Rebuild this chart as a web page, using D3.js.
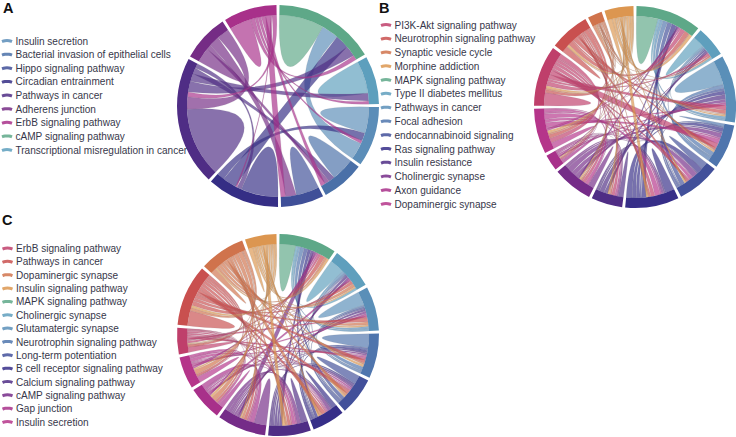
<!DOCTYPE html>
<html><head><meta charset="utf-8">
<style>html,body{margin:0;padding:0;background:#fff}svg{display:block;font-family:"Liberation Sans",Arial,sans-serif}</style>
<script src="https://cdn.jsdelivr.net/npm/d3@7"></script></head>
<body><svg id="c" width="736" height="437"></svg>
<script>
// Panel A. Names in legend order; links rows are [self, to next, to next+1, ...] starting from the first sector drawn.
const namesA = ["Insulin secretion","Bacterial invasion of epithelial cells","Hippo signaling pathway","Circadian entrainment","Pathways in cancer","Adherens junction","ErbB signaling pathway","cAMP signaling pathway","Transcriptional misregulation in cancer"];
const colorsA = ["#5b8db8","#4a70a8","#3f4f98","#352e85","#4f2d85","#752c85","#a8308a","#5ea888","#5d9fbd"];
const firstA = 7;
const linksA = [
 [29,0,11,0,0,9,7,0,3],
 [21,0,0,0,0,5,0,2],
 [17,0,0,5,0,0,2],
 [15,0,0,4,3,3],
 [15,0,0,7,3],
 [24,3,0,1],
 [45,8,3],
 [9.5,0],
 [14]
];
// Panel B
const namesB = ["PI3K-Akt signaling pathway","Neurotrophin signaling pathway","Synaptic vesicle cycle","Morphine addiction","MAPK signaling pathway","Type II diabetes mellitus","Pathways in cancer","Focal adhesion","endocannabinoid signaling","Ras signaling pathway","Insulin resistance","Cholinergic synapse","Axon guidance","Dopaminergic synapse"];
const colorsB = ["#bf3f6b","#c9504f","#d0734c","#dc9650","#5ea888","#5f9fbd","#5a8fb8","#4f75ad","#42509a","#362e88","#4f2d85","#752c88","#a8308a","#b5358a"];
const firstB = 4;
const linksB = [
 [14,1.5,2,3,3,3,1,1,.5,1,3,3,.5,2],
 [7.5,1,1,.5,1,1.5,.5,0,.5,1.5,1,0,.5],
 [16,2.5,1.5,2.5,3,2,1,1,3,2.5,.5,1],
 [2,1,2.5,1,3,1,3,3,1.5,.5,1],
 [4.8,4,.5,3.5,.5,2,1.5,1,.5,1],
 [6,1,1.5,1,3.5,2.5,1.5,.5,1],
 [3.3,1,.5,1,2,1,.5,1],
 [3.9,.5,2,2,1,.5,1],
 [2,.5,1,.5,0,.5],
 [4,3,2.5,1,1.5],
 [8.5,2,1,1.5],
 [4,.5,1.5],
 [2,.5],
 [3]
];
// Panel C
const namesC = ["ErbB signaling pathway","Pathways in cancer","Dopaminergic synapse","Insulin signaling pathway","MAPK signaling pathway","Cholinergic synapse","Glutamatergic synapse","Neurotrophin signaling pathway","Long-term potentiation","B cell receptor signaling pathway","Calcium signaling pathway","cAMP signaling pathway","Gap junction","Insulin secretion"];
const colorsC = ["#bf3f6b","#c9504f","#d0734c","#dc9650","#5ea888","#5f9fbd","#5a8fb8","#4f75ad","#42509a","#362e88","#4f2d85","#752c88","#a8308a","#b5358a"];
const firstC = 4;
const linksC = [
 [10.7,1.5,1.5,2.5,2.5,2,2,1.5,1,1,1.5,3,1.5,1.5],
 [9.8,1.5,1,.5,.5,1.5,1.5,1,.5,.5,2,2,1],
 [9,1,1,.5,1.5,1.5,1,1,1,2.5,2,1],
 [9.2,1.5,1.5,1,1,.5,1,1.5,2,1,1.5],
 [5.7,1,1.5,1,1,.5,1,2,2,1],
 [3.3,1,2,.5,.5,1,2.5,2,1],
 [4.5,2.5,1,2,1,2,1.5,2],
 [8.1,3,1,1,2,1.5,1],
 [3,1.5,.5,1.5,3,1.5],
 [3.8,.5,1.5,3,1],
 [3.5,1.5,.5,.5],
 [9.9,2,1.5],
 [3.7,1],
 [3]
];

const svg = d3.select("#c");
const PAD = 0.03, OUTER = 101, INNER = 91;

// Path context for d3.ribbon: each link bends at an apex on the bisector of its ends;
// the apex sits at mid-radius for close ends and reaches the centre for opposite ends.
function apexContext() {
  const p = d3.path();
  let cx = 0, cy = 0;
  return {
    moveTo(x, y) { p.moveTo(x, y); cx = x; cy = y; },
    arc(x, y, r, a0, a1) { p.arc(x, y, r, a0, a1); cx = r * Math.cos(a1); cy = r * Math.sin(a1); },
    quadraticCurveTo(_x, _y, x, y) {
      const a = Math.atan2(cy, cx), b = Math.atan2(y, x);
      let d = Math.abs(b - a); if (d > Math.PI) d = 2 * Math.PI - d;
      const mx = (cx + x) / 2, my = (cy + y) / 2, len = Math.hypot(mx, my) || 1;
      const apex = INNER * 0.5 * Math.pow(1 - d / Math.PI, 0.6);
      p.quadraticCurveTo(2 * apex * mx / len - mx, 2 * apex * my / len - my, x, y);
      cx = x; cy = y;
    },
    closePath() { p.closePath(); },
    toString() { return p.toString(); }
  };
}

function chordPanel(names, colors, first, links, cx, cy) {
  const n = names.length;
  const sectors = d3.range(n).map(k => (first + k) % n);
  const m = d3.range(n).map(() => new Array(n).fill(0));
  links.forEach((row, i) => row.forEach((v, o) => { m[i][i + o] = v; m[i + o][i] = v; }));
  const total = d3.sum(m, r => d3.sum(r));
  const angle = d3.scaleLinear().domain([0, total]).range([0, 2 * Math.PI - n * PAD]);
  const color = d3.scaleOrdinal().domain(d3.range(n)).range(sectors.map(s => colors[s]));
  // each sector lays out its own link first, then the others clockwise
  let run = 0;
  const groups = [], subs = d3.range(n).map(() => []);
  d3.range(n).forEach(i => {
    const off = (i + 0.5) * PAD;
    const g = { index: i, startAngle: angle(run) + off };
    d3.range(n).forEach(o => {
      const j = (i + o) % n;
      subs[i][j] = { startAngle: angle(run) + off, endAngle: angle(run + m[i][j]) + off };
      run += m[i][j];
    });
    g.endAngle = angle(run) + off;
    groups.push(g);
  });
  const root = svg.append("g").attr("transform", `translate(${cx},${cy})`);
  const ribbon = d3.ribbon().radius(INNER);
  const ribbonPath = d => { const c = apexContext(); ribbon.context(c)(d); return c.toString(); };
  const chords = [];
  d3.range(n).forEach(i => d3.range(i, n).forEach(j => {
    if (m[i][j] > 0) chords.push({ i, j, source: subs[i][j], target: subs[j][i] });
  }));
  root.append("g").selectAll("path").data(chords).join("path")
    .attr("d", ribbonPath)
    .attr("fill", d => color(d.j))
    .attr("fill-opacity", 0.68)
    .attr("stroke", "#6a6a7a").attr("stroke-opacity", 0.35).attr("stroke-width", 0.3);
  root.append("g").selectAll("path").data(groups).join("path")
    .attr("d", d3.arc().innerRadius(INNER).outerRadius(OUTER))
    .attr("fill", d => color(d.index));
}

function legend(names, colors, x, y0, y1, fontSize) {
  const y = d3.scalePoint().domain(names).range([y0, y1]);
  const g = svg.append("g");
  const swatch = d3.line().curve(d3.curveBasis);
  g.selectAll("path").data(names).join("path")
    .attr("d", d => swatch([[x, y(d) + .5], [x + 2.5, y(d) - .5], [x + 7.5, y(d) - .5], [x + 10, y(d) + .5]]))
    .attr("fill", "none").attr("stroke-width", 3).attr("stroke-opacity", 0.85)
    .attr("stroke", (d, i) => colors[i]);
  g.selectAll("text").data(names).join("text")
    .attr("x", x + 13.5).attr("y", d => y(d) + 3.6)
    .attr("font-size", fontSize).attr("fill", "#37374a").text(d => d);
}

function letter(t, x, y) {
  svg.append("text").attr("x", x).attr("y", y).attr("font-size", 14.5).attr("font-weight", "bold").attr("fill", "#111").text(t);
}

chordPanel(namesA, colorsA, firstA, linksA, 278, 106);
chordPanel(namesB, colorsB, firstB, linksB, 635, 107);
chordPanel(namesC, colorsC, firstC, linksC, 278, 335);
legend(namesA, colorsA, 2, 41, 150, 10.05);
legend(namesB, colorsB, 381, 25, 204, 10.05);
legend(namesC, colorsC, 2.5, 248.5, 422, 10.05);
letter("A", 3, 13);
letter("B", 379, 13);
letter("C", 2, 225);
</script></body></html>
